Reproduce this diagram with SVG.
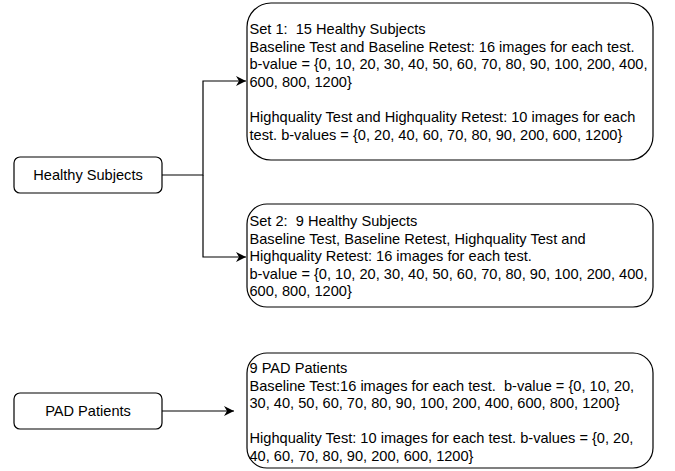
<svg xmlns="http://www.w3.org/2000/svg" width="675" height="471" viewBox="0 0 675 471">
<style>
.box{fill:#fff;stroke:#000;stroke-width:1.2}
.t{font-family:"Liberation Sans",Arial,sans-serif;font-size:14.6px;fill:#000;white-space:pre}
.c{text-anchor:middle}
.edge{fill:none;stroke:#000;stroke-width:1.2}
</style>
<defs>
<marker id="ah" viewBox="0 0 10 10" refX="10" refY="5" markerWidth="10" markerHeight="10" markerUnits="userSpaceOnUse" orient="auto">
<path d="M0,0 L10,5 L0,10 L3,5 Z" fill="#000"/>
</marker>
</defs>
<rect width="675" height="471" fill="#fff"/>
<g id="connectors">
<path class="edge" d="M162,175 H203 V81 H246" marker-end="url(#ah)"/>
<path class="edge" d="M203,175 V257 H246" marker-end="url(#ah)"/>
<path class="edge" d="M162,411 H234" marker-end="url(#ah)"/>
</g>
<g id="healthy">
<rect class="box" x="14" y="157" width="148" height="36" rx="6"/>
<text class="t c" x="88" y="180">Healthy Subjects</text>
</g>
<g id="pad">
<rect class="box" x="14" y="393" width="148" height="36" rx="6"/>
<text class="t c" x="88" y="416">PAD Patients</text>
</g>
<g id="set1">
<rect class="box" x="247" y="3" width="406" height="157" rx="24"/>
<text class="t" x="249.5" y="34">Set 1:  15 Healthy Subjects</text>
<text class="t" x="249.5" y="51.6">Baseline Test and Baseline Retest: 16 images for each test.</text>
<text class="t" x="249.5" y="69.2">b-value = {0, 10, 20, 30, 40, 50, 60, 70, 80, 90, 100, 200, 400,</text>
<text class="t" x="249.5" y="86.8">600, 800, 1200}</text>
<text class="t" x="249.5" y="122">Highquality Test and Highquality Retest: 10 images for each</text>
<text class="t" x="249.5" y="139.6">test. b-values = {0, 20, 40, 60, 70, 80, 90, 200, 600, 1200}</text>
</g>
<g id="set2">
<rect class="box" x="247" y="204" width="406" height="103" rx="20"/>
<text class="t" x="249.5" y="226">Set 2:  9 Healthy Subjects</text>
<text class="t" x="249.5" y="243.6">Baseline Test, Baseline Retest, Highquality Test and</text>
<text class="t" x="249.5" y="261.2">Highquality Retest: 16 images for each test.</text>
<text class="t" x="249.5" y="278.8">b-value = {0, 10, 20, 30, 40, 50, 60, 70, 80, 90, 100, 200, 400,</text>
<text class="t" x="249.5" y="296.4">600, 800, 1200}</text>
</g>
<g id="pad-detail">
<rect class="box" x="247" y="353" width="406" height="115" rx="20"/>
<text class="t" x="249.5" y="373">9 PAD Patients</text>
<text class="t" x="249.5" y="390.6">Baseline Test:16 images for each test.  b-value = {0, 10, 20,</text>
<text class="t" x="249.5" y="408.2">30, 40, 50, 60, 70, 80, 90, 100, 200, 400, 600, 800, 1200}</text>
<text class="t" x="249.5" y="443.4">Highquality Test: 10 images for each test. b-values = {0, 20,</text>
<text class="t" x="249.5" y="461">40, 60, 70, 80, 90, 200, 600, 1200}</text>
</g>
</svg>
